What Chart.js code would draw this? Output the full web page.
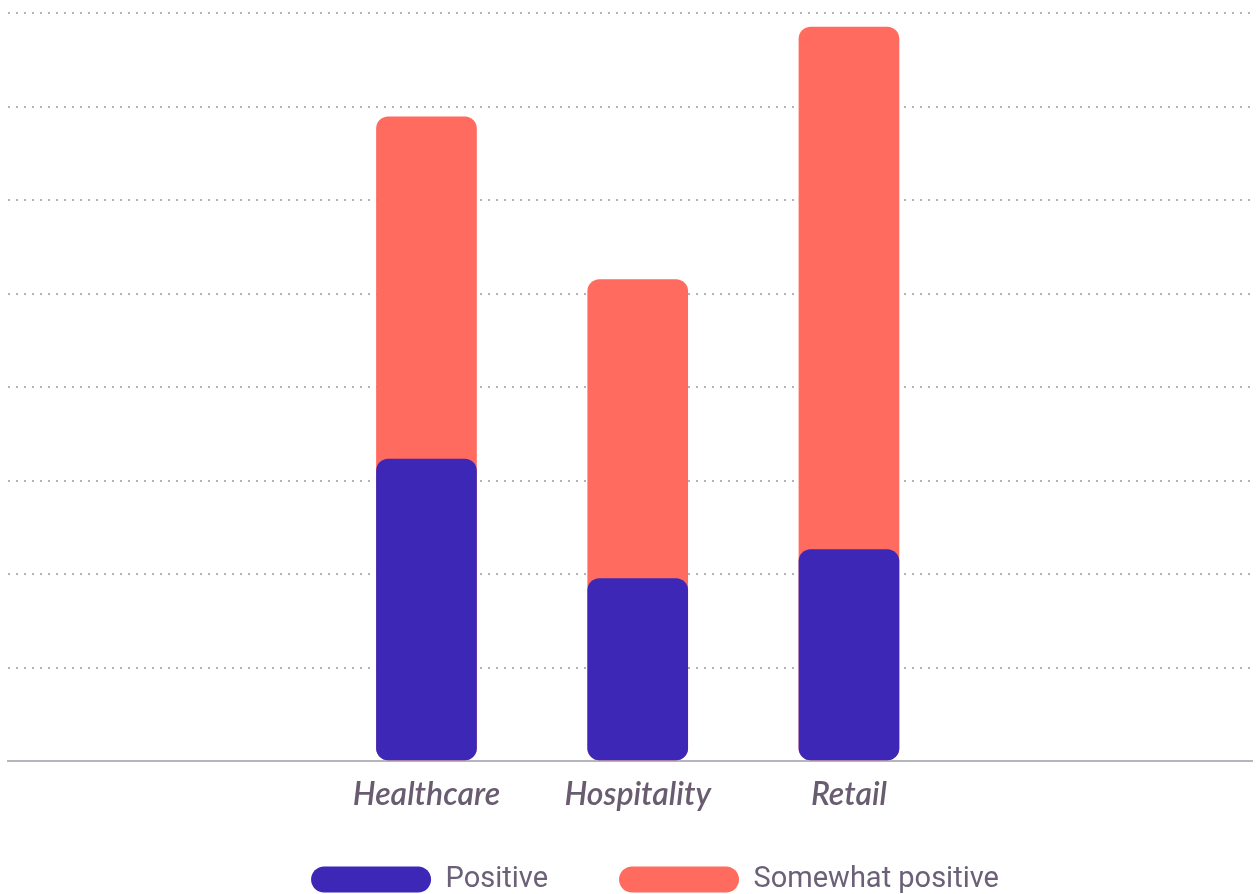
<!DOCTYPE html>
<html>
<head>
<meta charset="utf-8">
<script src="https://cdn.jsdelivr.net/npm/chart.js@4.4.1/dist/chart.umd.min.js"></script>
<style>
  html, body { margin: 0; padding: 0; background: #ffffff; overflow: hidden; }
  #wrap { position: relative; width: 1257px; height: 904px; }
</style>
</head>
<body>
<div id="wrap"><canvas id="c"></canvas></div>
<script>
const categories = ['Healthcare', 'Hospitality', 'Retail'];
const positive = [32.3, 19.5, 22.6];
const somewhatPositive = [36.6, 32.0, 55.9];
const seriesNames = ['Positive', 'Somewhat positive'];
const yTicks = [0, 10, 20, 30, 40, 50, 60, 70, 80];

const PURPLE = '#3d27b6';
const CORAL = '#ff6b5f';

// coral bar sits behind the purple one, reaching the cumulative total
const positivePts = categories.map((c, i) => ({ x: i, y: positive[i] }));
const totalPts = categories.map((c, i) => ({ x: i, y: positive[i] + somewhatPositive[i] }));

const layoutTweak = {
  id: 'layoutTweak',
  afterLayout(chart) {
    const lg = chart.legend;
    if (lg) { lg.left += 25; lg.right += 25; }
    // let the category labels extend below the (short) axis box without being clipped
    const x = chart.scales.x;
    if (x) { x.bottom = x.top + 70; }
  }
};

new Chart(document.getElementById('c'), {
  type: 'bar',
  plugins: [layoutTweak],
  data: {
    datasets: [
      {
        label: seriesNames[0],
        data: positivePts,
        backgroundColor: PURPLE,
        borderRadius: 12,
        borderSkipped: false,
        barThickness: 100,
        grouped: false,
        order: 0
      },
      {
        label: seriesNames[1],
        data: totalPts,
        backgroundColor: CORAL,
        borderRadius: 12,
        borderSkipped: false,
        barThickness: 100,
        grouped: false,
        order: 1
      }
    ]
  },
  options: {
    responsive: true,
    maintainAspectRatio: false,
    animation: false,
    layout: { padding: { top: 13, left: 8, right: 5, bottom: 0 } },
    plugins: {
      tooltip: { enabled: false },
      legend: {
        position: 'bottom',
        labels: {
          boxWidth: 120,
          boxHeight: 26,
          useBorderRadius: true,
          borderRadius: 13,
          padding: 71,
          color: '#6b6078',
          font: { family: 'Roboto', size: 29 }
        }
      }
    },
    scales: {
      x: {
        type: 'linear',
        offset: false,
        min: -1.981,
        max: 3.908,
        grid: { display: false, drawTicks: false },
        border: { display: true, color: '#b6b5bd', width: 2 },
        afterFit: s => { s.height = 33; s.paddingLeft = 0; s.paddingRight = 0; },
        ticks: {
          stepSize: 1,
          autoSkip: false,
          maxRotation: 0,
          padding: 14,
          color: '#695c70',
          font: { family: 'Lato', size: 32, style: 'italic', weight: '600' },
          callback: v => (Number.isInteger(v) && categories[v] !== undefined) ? categories[v] : ''
        }
      },
      y: {
        min: yTicks[0],
        max: yTicks[yTicks.length - 1],
        afterBuildTicks: s => { s.ticks = yTicks.map(v => ({ value: v })); },
        ticks: { display: false },
        grid: { color: '#b3b3b3', lineWidth: 2, drawTicks: false },
        border: { display: false, dash: [2, 6] }
      }
    }
  }
});
</script>
</body>
</html>
